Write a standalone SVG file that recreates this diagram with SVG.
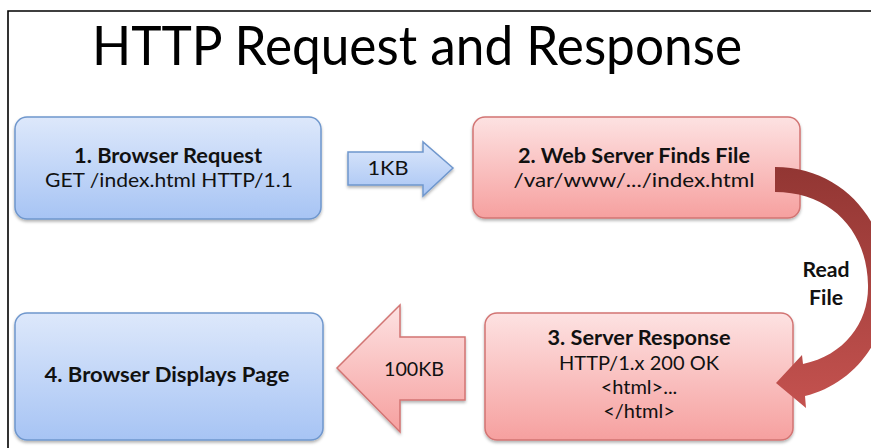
<svg xmlns="http://www.w3.org/2000/svg" width="871" height="448" viewBox="0 0 871 448">
  <defs>
    <linearGradient id="blueGrad" x1="0" y1="0" x2="0" y2="1">
      <stop offset="0" stop-color="#dde8fb"/>
      <stop offset="1" stop-color="#a7c4f4"/>
    </linearGradient>
    <linearGradient id="pinkGrad" x1="0" y1="0" x2="0" y2="1">
      <stop offset="0" stop-color="#fde2e2"/>
      <stop offset="1" stop-color="#f6a09f"/>
    </linearGradient>
    <linearGradient id="curveGrad" x1="0" y1="0" x2="0" y2="1">
      <stop offset="0" stop-color="#923633"/>
      <stop offset="1" stop-color="#c4524f"/>
    </linearGradient>
    <filter id="shadow" x="-10%" y="-10%" width="120%" height="130%">
      <feDropShadow dx="0" dy="2" stdDeviation="1.5" flood-color="#000" flood-opacity="0.3"/>
    </filter>
    <style>
      .blue { fill: url(#blueGrad); stroke: #6f97cd; stroke-width: 1.5; filter: url(#shadow); }
      .pink { fill: url(#pinkGrad); stroke: #d27473; stroke-width: 1.5; filter: url(#shadow); }
      .t { font-family: Lato, "Open Sans", "Liberation Sans", sans-serif; fill: #111; text-anchor: middle; font-size: 20px; }
      .b { font-weight: bold; }
      .title { font-family: Lato, "Open Sans", "Liberation Sans", sans-serif; fill: #000; font-size: 54px; }
    </style>
  </defs>

  <rect width="871" height="448" fill="#fff"/>
  <path d="M8,448 V11 H871" fill="none" stroke="#000" stroke-width="1.6"/>

  <text class="title" x="92" y="65" textLength="650" lengthAdjust="spacingAndGlyphs">HTTP Request and Response</text>

  <g id="node1">
    <rect class="blue" x="15" y="117" width="306" height="102" rx="12"/>
    <text class="t b" x="168" y="163" textLength="188" lengthAdjust="spacingAndGlyphs">1. Browser Request</text>
    <text class="t" x="169" y="187" textLength="248" lengthAdjust="spacingAndGlyphs">GET /index.html HTTP/1.1</text>
  </g>

  <g id="node2">
    <rect class="pink" x="473" y="117" width="327" height="101" rx="12"/>
    <text class="t b" x="634" y="163" textLength="232" lengthAdjust="spacingAndGlyphs">2. Web Server Finds File</text>
    <text class="t" x="634" y="187" textLength="241" lengthAdjust="spacingAndGlyphs">/var/www/.../index.html</text>
  </g>

  <g id="node3">
    <rect class="pink" x="485" y="313" width="308" height="127" rx="12"/>
    <text class="t b" x="639" y="345" textLength="183" lengthAdjust="spacingAndGlyphs">3. Server Response</text>
    <text class="t" x="639" y="370" textLength="160" lengthAdjust="spacingAndGlyphs">HTTP/1.x 200 OK</text>
    <text class="t" x="639" y="394">&lt;html&gt;...</text>
    <text class="t" x="639" y="418">&lt;/html&gt;</text>
  </g>

  <g id="node4">
    <rect class="blue" x="15" y="313" width="308" height="127" rx="12"/>
    <text class="t b" x="167" y="382" textLength="245" lengthAdjust="spacingAndGlyphs">4. Browser Displays Page</text>
  </g>

  <g id="connectors">
    <g id="arrow-1kb">
      <path class="blue" d="M348,152 H423 V142 L453,168 L423,196 V185 H348 Z" stroke="#7ea2d3"/>
      <text class="t" x="388" y="175" font-size="23" textLength="41" lengthAdjust="spacingAndGlyphs">1KB</text>
    </g>
    <g id="arrow-100kb">
      <path class="pink" d="M465,337 H400 V305 L337,368 L400,432 V400 H465 Z"/>
      <text class="t" x="414" y="376" font-size="21" textLength="60" lengthAdjust="spacingAndGlyphs">100KB</text>
    </g>
    <g id="arrow-readfile">
      <path fill="url(#curveGrad)" d="M775,167 C845,167 890,225 888,290 C886,345 850,385 805,396 L806,408 L776,383 L802,355 L803,364 C845,355 869,322 868,285 C867,230 830,192 775,192 Z"/>
      <text class="t b" x="826" y="277" font-size="21" textLength="47" lengthAdjust="spacingAndGlyphs">Read</text>
      <text class="t b" x="826" y="305" font-size="21" textLength="34" lengthAdjust="spacingAndGlyphs">File</text>
    </g>
  </g>
</svg>
